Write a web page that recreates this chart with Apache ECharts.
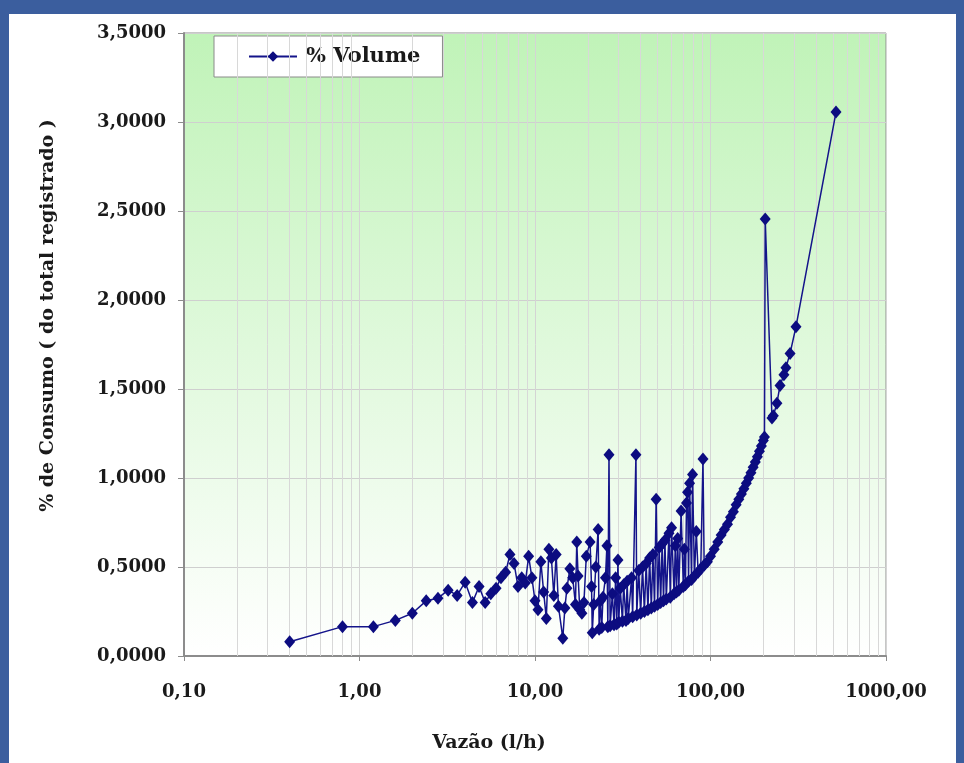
<!DOCTYPE html>
<html>
<head>
<meta charset="utf-8">
<script src="https://cdn.jsdelivr.net/npm/echarts@6/dist/echarts.min.js"></script>
<style>
  html, body { margin: 0; padding: 0; background: #3b5e9e; width: 964px; height: 763px; overflow: hidden; }
  #chart { position: absolute; left: 9px; top: 14px; width: 947px; height: 749px; background: #ffffff; }
</style>
</head>
<body>
<div id="chart"></div>
<script>
// ---- data ----
const seriesName = '% Volume';
const xAxisTitle = 'Vazão (l/h)';
const yAxisTitle = '% de Consumo ( do total registrado )';
const yTicks = [0, 0.5, 1, 1.5, 2, 2.5, 3, 3.5];
const xTicks = [0.1, 1, 10, 100, 1000];

const vazao = [
  0.40, 0.80, 1.20, 1.60, 2.00, 2.40, 2.80, 3.20, 3.60, 4.00,
  4.40, 4.80, 5.20, 5.60, 6.00, 6.40, 6.80, 7.20, 7.60, 8.00,
  8.40, 8.80, 9.20, 9.60, 10.0, 10.4, 10.8, 11.2, 11.6, 12.0,
  12.4, 12.8, 13.2, 13.6, 14.4, 14.8, 15.2, 15.8, 16.4, 17.0,
  17.3, 17.6, 18.0, 18.5, 19.0, 19.6, 20.6, 21.0, 21.2, 21.6,
  22.2, 22.9, 23.2, 23.6, 24.0, 24.4, 25.2, 25.7, 26.0, 26.4,
  26.8, 27.6, 28.2, 28.8, 29.2, 29.7, 30.0, 30.6, 31.5, 32.0,
  33.0, 33.5, 34.0, 35.5, 36.0, 37.6, 38.0, 39.0, 40.0, 41.0,
  42.0, 43.0, 44.0, 45.0, 46.0, 47.0, 48.0, 49.0, 50.0, 51.0,
  52.0, 53.0, 54.0, 55.0, 56.0, 58.0, 59.0, 60.0, 62.0, 63.0,
  64.0, 65.0, 66.0, 68.0, 70.0, 71.0, 72.0, 73.0, 74.0, 75.0,
  76.0, 78.0, 79.0, 81.0, 83.0, 85.0, 88.0, 90.6, 92.0, 96.0,
  100, 105, 110, 115, 120, 125, 130, 135, 140, 145,
  150, 155, 160, 165, 170, 175, 180, 185, 190, 195,
  200, 203, 205, 224, 228, 239, 249, 262, 269, 284,
  307, 519
];
const percentVolume = [
  0.080, 0.165, 0.165, 0.200, 0.240, 0.310, 0.325, 0.370, 0.340, 0.415,
  0.300, 0.390, 0.300, 0.350, 0.380, 0.440, 0.470, 0.570, 0.520, 0.390,
  0.440, 0.410, 0.560, 0.440, 0.310, 0.260, 0.530, 0.360, 0.210, 0.600,
  0.550, 0.340, 0.570, 0.280, 0.100, 0.270, 0.380, 0.490, 0.440, 0.290,
  0.640, 0.450, 0.260, 0.240, 0.300, 0.560, 0.640, 0.390, 0.130, 0.290,
  0.500, 0.710, 0.150, 0.310, 0.160, 0.330, 0.440, 0.620, 0.165, 1.130,
  0.170, 0.350, 0.175, 0.440, 0.180, 0.540, 0.190, 0.380, 0.195, 0.400,
  0.200, 0.420, 0.210, 0.440, 0.220, 1.130, 0.230, 0.480, 0.240, 0.500,
  0.250, 0.520, 0.260, 0.550, 0.270, 0.570, 0.280, 0.880, 0.290, 0.610,
  0.300, 0.630, 0.310, 0.650, 0.320, 0.690, 0.330, 0.720, 0.350, 0.620,
  0.360, 0.660, 0.370, 0.815, 0.390, 0.600, 0.400, 0.860, 0.920, 0.420,
  0.970, 0.430, 1.020, 0.450, 0.700, 0.470, 0.490, 1.107, 0.510, 0.530,
  0.560, 0.600, 0.640, 0.680, 0.710, 0.740, 0.780, 0.810, 0.850, 0.880,
  0.910, 0.940, 0.970, 1.000, 1.030, 1.060, 1.090, 1.120, 1.150, 1.180,
  1.210, 1.230, 2.455, 1.337, 1.350, 1.420, 1.520, 1.580, 1.620, 1.700,
  1.850, 3.056
];

// ---- chart ----
const pairs = vazao.map((x, i) => [x, percentVolume[i]]);

// minor (logarithmic) vertical grid lines at 2..9 x each decade
const minorLines = [];
for (let d = 0; d < xTicks.length - 1; d++) {
  for (let k = 2; k <= 9; k++) minorLines.push({ xAxis: +(xTicks[d] * k).toPrecision(6) });
}

const labelFont = { fontFamily: 'DejaVu Serif', fontWeight: 'bold', fontSize: 18, color: '#1a1a1a' };
const chart = echarts.init(document.getElementById('chart'), null, { renderer: 'canvas' });
chart.setOption({
  animation: false,
  backgroundColor: '#ffffff',
  grid: {
    left: 175, top: 19, width: 702, height: 623,
    show: true,
    borderColor: '#8e8e8e', borderWidth: 1,
    backgroundColor: new echarts.graphic.LinearGradient(0, 0, 0, 1, [
      { offset: 0, color: '#c0f3b8' },
      { offset: 1, color: '#ffffff' }
    ])
  },
  legend: {
    data: [seriesName],
    left: 205, top: 22,
    backgroundColor: '#ffffff',
    borderColor: '#8a8a8a', borderWidth: 1,
    padding: [10, 22, 10, 34],
    itemWidth: 48, itemHeight: 13,
    textStyle: { fontFamily: 'DejaVu Serif', fontWeight: 'bold', fontSize: 21, color: '#1a1a1a', padding: [0, 0, 0, 4] }
  },
  xAxis: {
    type: 'log', logBase: 10, min: 0.1, max: 1000,
    name: xAxisTitle, nameLocation: 'middle', nameGap: 78,
    nameTextStyle: { fontFamily: 'DejaVu Serif', fontWeight: 'bold', fontSize: 19, color: '#1a1a1a', padding: [0, 92, 0, 0] },
    axisLine: { lineStyle: { color: '#8c8c8c', width: 2 } },
    axisTick: { show: true, length: 5, lineStyle: { color: '#8c8c8c' } },
    axisLabel: Object.assign({ margin: 27, formatter: v => Number(v).toFixed(2).replace('.', ',') }, labelFont),
    splitLine: { show: true, lineStyle: { color: '#d4d4d4', width: 1 } }
  },
  yAxis: {
    type: 'value', min: 0, max: 3.5, interval: 0.5,
    name: yAxisTitle, nameLocation: 'middle', nameGap: 126, nameRotate: 90,
    nameTextStyle: { fontFamily: 'DejaVu Serif', fontWeight: 'bold', fontSize: 19, color: '#1a1a1a', padding: [0, 0, 0, 58] },
    axisLine: { show: true, lineStyle: { color: '#8c8c8c', width: 2 } },
    axisTick: { show: true, length: 6, lineStyle: { color: '#8c8c8c' } },
    axisLabel: Object.assign({ margin: 18, formatter: v => Number(v).toFixed(4).replace('.', ',') }, labelFont),
    splitLine: { show: true, lineStyle: { color: '#cfcfcf', width: 1 } }
  },
  series: [
    {
      name: 'minor-grid', type: 'line', data: [], z: 1, silent: true,
      markLine: {
        silent: true, symbol: ['none', 'none'], label: { show: false },
        lineStyle: { color: '#d8d8d8', width: 1, type: 'solid' },
        emphasis: { disabled: true },
        data: minorLines
      }
    },
    {
      name: seriesName, type: 'line', z: 5,
      data: pairs,
      symbol: 'diamond', symbolSize: [11, 13],
      showAllSymbol: true,
      itemStyle: { color: '#0c0c80' },
      lineStyle: { color: '#14148a', width: 1.5 }
    }
  ]
});
</script>
</body>
</html>
